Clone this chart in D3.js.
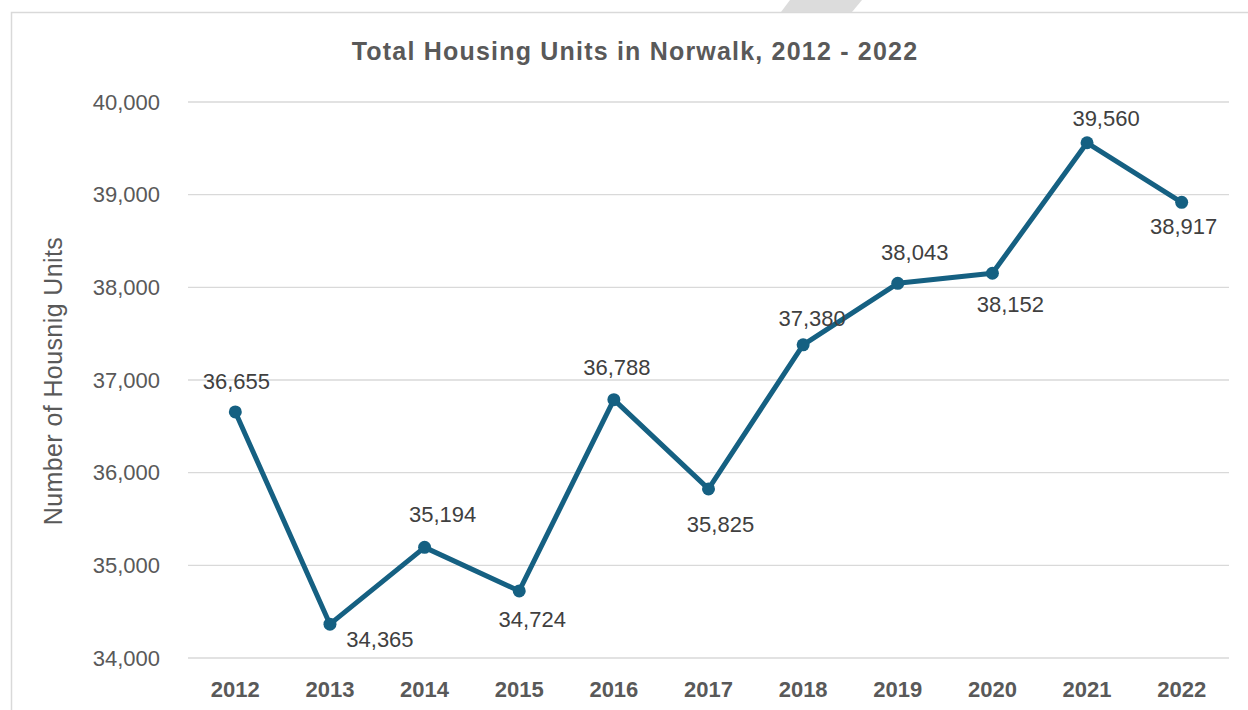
<!DOCTYPE html>
<html>
<head>
<meta charset="utf-8">
<script src="https://cdn.jsdelivr.net/npm/d3@7"></script>
<style>
  html, body { margin: 0; padding: 0; background: #fff; }
  svg { display: block; }
</style>
</head>
<body>
<div id="chart"></div>
<script>
// --- DATA ---
const years = ["2012", "2013", "2014", "2015", "2016", "2017", "2018", "2019", "2020", "2021", "2022"];
const units = [36655, 34365, 35194, 34724, 36788, 35825, 37380, 38043, 38152, 39560, 38917];
const yTicks = [34000, 35000, 36000, 37000, 38000, 39000, 40000];
const chartTitle = "Total Housing Units in Norwalk, 2012 - 2022";
const yTitle = "Number of Housnig Units";

// label placement (offset from point, px) - hand placed like the original
const labelDx = [1, 50, 18, 13, 3, 12, 9, 17, 18, 19, 2];
const labelDy = [-31, 15, -33, 28, -33, 35, -27, -31, 31, -25, 24];

// --- SETUP ---
const width = 1248, height = 710;
const margin = {top: 102, right: 19, bottom: 52, left: 188};
const lineColor = "#156082";
const font = "'Liberation Sans', Arial, sans-serif";

const svg = d3.select("#chart").append("svg")
    .attr("width", width)
    .attr("height", height);

// chart area border + the grey bit sticking out on top
svg.append("rect")
    .attr("x", 11.5).attr("y", 12.5)
    .attr("width", width).attr("height", height)
    .attr("fill", "#fff")
    .attr("stroke", "#d9d9d9")
    .attr("stroke-width", 1.5);

svg.append("path")
    .attr("d", "M790,0 L862,0 L852,12 L781,12 Z")
    .attr("fill", "#dcdcdc");

const x = d3.scaleBand()
    .domain(years)
    .range([margin.left, width - margin.right]);

const y = d3.scaleLinear()
    .domain([34000, 40000])
    .range([height - margin.bottom, margin.top]);

const cx = d => x(d) + x.bandwidth() / 2;

// gridlines
svg.append("g")
    .selectAll("line")
    .data(yTicks)
    .enter().append("line")
    .attr("x1", margin.left)
    .attr("x2", width - margin.right)
    .attr("y1", d => y(d))
    .attr("y2", d => y(d))
    .attr("stroke", "#d9d9d9")
    .attr("stroke-width", 1.3);

// y axis labels
const yAxis = svg.append("g")
    .attr("transform", `translate(${margin.left - 28},0)`)
    .call(d3.axisLeft(y).tickValues(yTicks).tickFormat(d3.format(",")).tickSize(0).tickPadding(0));
yAxis.select(".domain").remove();
yAxis.selectAll("text")
    .attr("font-family", font)
    .attr("font-size", 22)
    .attr("fill", "#595959");

// x axis labels
const xAxis = svg.append("g")
    .attr("transform", `translate(0,${height - margin.bottom})`)
    .call(d3.axisBottom(x).tickSize(0).tickPadding(23));
xAxis.select(".domain").remove();
xAxis.selectAll("text")
    .attr("font-family", font)
    .attr("font-size", 22)
    .attr("font-weight", "bold")
    .attr("fill", "#595959");

// titles
svg.append("text")
    .attr("x", 635)
    .attr("y", 60)
    .attr("text-anchor", "middle")
    .attr("font-family", font)
    .attr("font-size", 25)
    .attr("font-weight", "bold")
    .attr("letter-spacing", 1.2)
    .attr("fill", "#595959")
    .text(chartTitle);

svg.append("text")
    .attr("transform", `translate(62,${381}) rotate(-90)`)
    .attr("text-anchor", "middle")
    .attr("font-family", font)
    .attr("font-size", 25)
    .attr("letter-spacing", 0.4)
    .attr("fill", "#595959")
    .text(yTitle);

// --- LINE ---
const series = years.map((yr, i) => ({year: yr, value: units[i], i: i}));

const line = d3.line()
    .x(d => cx(d.year))
    .y(d => y(d.value));

svg.append("path")
    .datum(series)
    .attr("d", line)
    .attr("fill", "none")
    .attr("stroke", lineColor)
    .attr("stroke-width", 5)
    .attr("stroke-linejoin", "round");

svg.append("g")
    .selectAll("circle")
    .data(series)
    .enter().append("circle")
    .attr("cx", d => cx(d.year))
    .attr("cy", d => y(d.value))
    .attr("r", 6.5)
    .attr("fill", lineColor);

// data labels
svg.append("g")
    .selectAll("text")
    .data(series)
    .enter().append("text")
    .attr("x", d => cx(d.year) + labelDx[d.i])
    .attr("y", d => y(d.value) + labelDy[d.i])
    .attr("dy", "0.36em")
    .attr("text-anchor", "middle")
    .attr("font-family", font)
    .attr("font-size", 22)
    .attr("fill", "#404040")
    .text(d => d3.format(",")(d.value));
</script>
</body>
</html>
